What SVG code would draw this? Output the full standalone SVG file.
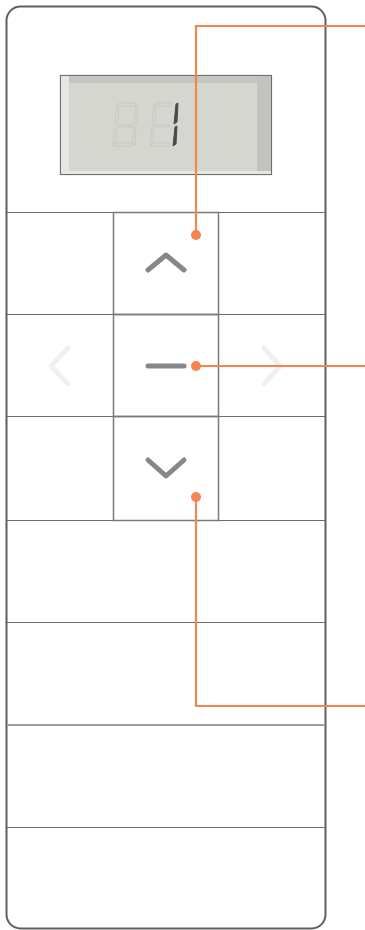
<svg xmlns="http://www.w3.org/2000/svg" width="365" height="930" viewBox="0 0 365 930">
<style>
.grid{stroke:#6a6a6a;stroke-width:1.2;fill:none}
.btn{stroke:#7a7a7a;stroke-width:1.5;fill:none}
.ico{stroke:#87878a;stroke-width:5;fill:none;stroke-linecap:round;stroke-linejoin:round}
.faint{stroke:#f0f0f0;stroke-width:5;fill:none;stroke-linecap:round;stroke-linejoin:round}
.lead{stroke:#f5844f;stroke-width:2.2;fill:none}
.dot{fill:#f5844f}
.seg{fill:none;stroke:#c2c2bd;stroke-width:0.8}
</style>
<rect x="0" y="0" width="365" height="930" fill="#ffffff"/>
<g id="remote">
<rect x="6.5" y="6.5" width="319" height="922" rx="14" fill="#ffffff" stroke="#5f5f5f" stroke-width="2"/>
</g>
<g id="lcd">
<rect x="60.5" y="75.5" width="211" height="99" fill="#d6d6d0" stroke="#6e6e6e" stroke-width="1.2"/>
<rect x="61" y="76" width="210" height="7" fill="#c6c6c0"/>
<rect x="61" y="76" width="8" height="98" fill="#e6e6e2"/>
<rect x="257" y="76" width="14" height="98" fill="#c3c3bd"/>
<rect x="69" y="171" width="202" height="3" fill="#e6e6e2"/>
<g opacity="0.8">
<path class="seg" d="M119 103 L135 103 L134 106 L120 106 Z"/>
<path class="seg" d="M117 104 L119 106 L118 122 L115 124 Z"/>
<path class="seg" d="M136 104 L138 105 L137 124 L134 122 Z"/>
<path class="seg" d="M116 125 L134 125 L133 127 L117 127 Z"/>
<path class="seg" d="M115 128 L117 130 L116 143 L113 145 Z"/>
<path class="seg" d="M134 128 L136 127 L135 145 L132 143 Z"/>
<path class="seg" d="M115 143 L132 143 L133 146 L113 146 Z"/>
<path class="seg" d="M156 103 L172 103 L171 106 L157 106 Z"/>
<path class="seg" d="M154 104 L156 106 L155 122 L152 124 Z"/>
<path class="seg" d="M153 125 L170 125 L169 127 L154 127 Z"/>
<path class="seg" d="M152 128 L154 130 L153 143 L150 145 Z"/>
<path class="seg" d="M152 143 L169 143 L170 146 L150 146 Z"/>
</g>
<path d="M176 104 L178 103 L177 122 L174 124 Z M175 127 L177 126 L176 144 L173 146 Z" fill="#4a4a4c" stroke="#4a4a4c" stroke-width="1" stroke-linejoin="round"/>
</g>
<g id="grid">
<line class="grid" x1="7" y1="212.5" x2="325" y2="212.5"/>
<line class="grid" x1="7" y1="314.5" x2="325" y2="314.5"/>
<line class="grid" x1="7" y1="416.5" x2="325" y2="416.5"/>
<line class="grid" x1="7" y1="520.5" x2="325" y2="520.5"/>
<line class="grid" x1="7" y1="622.5" x2="325" y2="622.5"/>
<line x1="7" y1="725" x2="325" y2="725" stroke="#a0a0a0" stroke-width="2"/>
<line class="grid" x1="7" y1="827.5" x2="325" y2="827.5"/>
</g>
<g id="btn-up">
<rect class="btn" x="113.5" y="212.5" width="105" height="102"/>
<polyline class="ico" points="148,270 166,255 184,270"/>
</g>
<g id="btn-stop">
<rect class="btn" x="113.5" y="314.5" width="105" height="102"/>
<line class="ico" x1="148" y1="366" x2="184" y2="366"/>
</g>
<g id="btn-down">
<rect class="btn" x="113.5" y="416.5" width="105" height="104"/>
<polyline class="ico" points="148,460 166,476 184,460"/>
</g>
<g id="btn-left">
<polyline class="faint" points="68,348 51,366 68,384"/>
</g>
<g id="btn-right">
<polyline class="faint" points="264,348 280,366 264,384"/>
</g>
<g id="connectors">
<polyline class="lead" points="365,26 196,26 196,235"/>
<circle class="dot" cx="196" cy="235" r="5"/>
<line class="lead" x1="196" y1="366" x2="365" y2="366"/>
<circle class="dot" cx="196" cy="366" r="5"/>
<polyline class="lead" points="196,497 196,706 365,706"/>
<circle class="dot" cx="196" cy="497" r="5"/>
</g>
</svg>
